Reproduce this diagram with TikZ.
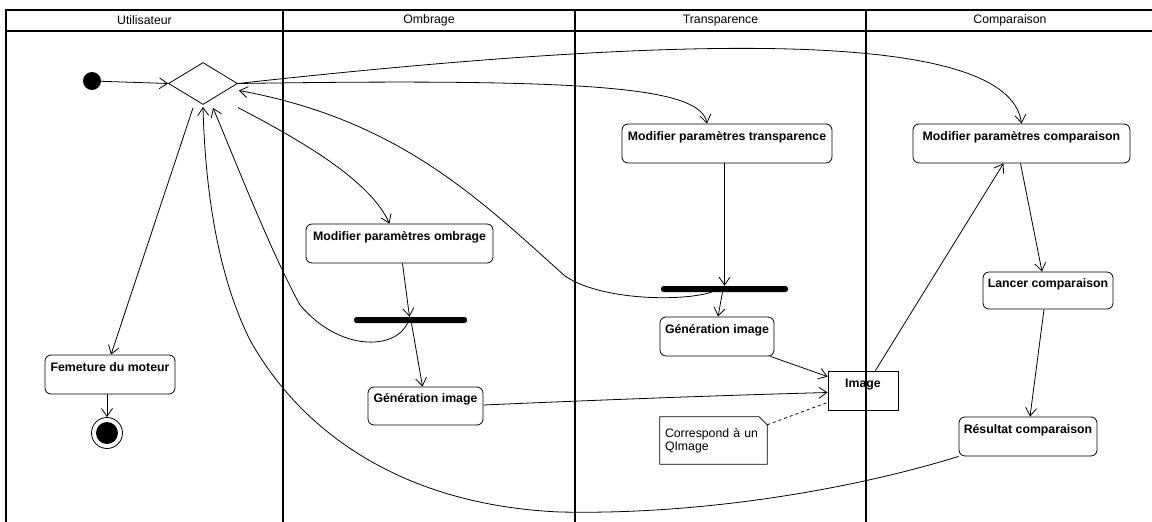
\documentclass[tikz,border=0pt]{standalone}
\usepackage{fontspec}
\setmainfont{Liberation Sans}
\usetikzlibrary{arrows.meta,shapes.geometric,calc}
\begin{document}
\begin{tikzpicture}[x=1pt,y=-1pt,
  font=\fontsize{12.3}{13}\selectfont,
  lane/.style={line width=1.6pt},
  conn/.style={line width=0.8pt,-{Straight Barb[length=8pt,width=11pt]}},
  act/.style={draw,line width=0.8pt,rounded corners=6pt,inner sep=0pt,
    font=\fontsize{12.3}{13}\selectfont\bfseries,text height=9pt,text depth=16pt,minimum height=39pt},
  bar/.style={fill=black,rounded corners=2.5pt,inner sep=0pt,minimum height=6pt},
  ]
\useasboundingbox (0,0) rectangle (1152,522);
\fill[white] (0,0) rectangle (1152,522);
% swimlanes
\draw[lane] (6,522) -- (6,10) -- (1152,10);
\draw[lane] (6,31) -- (1152,31);
\draw[lane] (283,10) -- (283,522);
\draw[lane] (575,10) -- (575,522);
\draw[line width=1.1pt] (866,10) -- (866,522);
\node (hU) at (144.5,20.5) {Utilisateur};
\node (hO) at (429,20.5) {Ombrage};
\node (hT) at (720.5,20.5) {Transparence};
\node (hC) at (1010,20.5) {Comparaison};
% nodes
\node[circle,fill=black,inner sep=0pt,minimum size=18pt] (start) at (92,81) {};
\node[diamond,draw,line width=0.8pt,inner sep=0pt,minimum width=69pt,minimum height=42pt] (dia) at (203,83.5) {};
\node[act,minimum width=130pt] (fer) at (110,374.5) {Femeture du moteur};
\node[circle,draw,line width=0.8pt,inner sep=0pt,minimum size=31pt,
  path picture={\fill[black] (path picture bounding box.center) circle (11pt);}] (end) at (107,433) {};
\node[act,minimum width=187pt] (modO) at (399.5,243.5) {Modifier paramètres ombrage};
\node[bar,minimum width=113pt] (bar1) at (410.5,320) {};
\node[act,minimum width=115pt,minimum height=38pt] (genO) at (425.5,406) {Génération image};
\node[act,minimum width=210pt] (modT) at (727,143.5) {Modifier paramètres transparence};
\node[bar,minimum width=127pt] (bar2) at (724.5,289) {};
\node[act,minimum width=114pt] (genT) at (717,336.5) {Génération image};
\node[act,rounded corners=0pt,minimum width=70pt] (img) at (863,390.5) {Image};
\node[align=left,text width=97pt,inner xsep=5pt,inner ysep=0pt,minimum height=47pt] (note) at (713.5,440.5)
  {Correspond à un\\QImage\vphantom{p}\\[2pt]};
\draw[line width=0.8pt] (note.north west) -- ($(note.north east)+(-8,0)$) -- ($(note.north east)+(0,8)$)
  -- (note.south east) -- (note.south west) -- cycle;
\node[act,minimum width=217pt] (modC) at (1021.5,143.5) {Modifier paramètres comparaison};
\node[act,minimum width=130pt,minimum height=37pt] (lan) at (1048,290.5) {Lancer comparaison};
\node[act,minimum width=138pt] (res) at (1028,436.5) {Résultat comparaison};
% connectors
\draw[conn] (start) -- (dia.west);
\draw[conn] (dia.east) .. controls (450,60) and (650,45) .. (790,49)
  .. controls (930,53) and (1015,75) .. (modC.north);
\draw[conn] (dia.east) .. controls (600,78) and (700,88) .. ($(modT.north)+(-20,0)$);
\draw[conn] ($(dia.east)+(0,24)$) .. controls (300,140) and (370,180) .. ($(modO.north)+(-10,0)$);
\draw[conn] ($(bar2.south)+(-13,0)$) .. controls (680,302) and (600,300) .. (565,276)
  .. controls (480,200) and (400,120) .. ($(dia.east)+(1,7)$);
\draw[conn] ($(bar1.south)+(-3,0)$) .. controls (395,350) and (340,352) .. (300,305)
  .. controls (270,250) and (235,160) .. ($(dia.south)+(10,3)$);
\draw[conn] (res.south west) .. controls (850,490) and (700,515) .. (560,512)
  .. controls (400,505) and (300,430) .. (250,340)
  .. controls (215,270) and (205,180) .. ($(dia.south)+(0,2)$);
\draw[conn] ($(dia.south)+(-10,3)$) -- ($(fer.north)+(1,0)$);
\draw[conn] (fer.south -| end) -- (end.north);
\draw[conn] ($(modO.south)+(3,0)$) -- ($(bar1.north)+(-1,0)$);
\draw[conn] ($(bar1.south)+(1,0)$) -- ($(genO.north)+(-3,0)$);
\draw[conn] ($(genO.east)+(0,-1)$) .. controls (600,400) and (700,396) .. ($(img.west)+(0,2)$);
\draw[conn] (modT.south -| bar2.north) -- (bar2.north);
\draw[conn] ($(bar2.south)+(-2,0)$) -- ($(genT.north)+(1,0)$);
\draw[conn] ($(genT.south east)+(-4,0)$) -- ($(img.north west)+(0,6)$);
\draw[conn] ($(img.north east)+(-23,0)$) -- ($(modC.south)+(-18,0)$);
\draw[conn] ($(modC.south)+(-1,0)$) -- ($(lan.north)+(-6,0)$);
\draw[conn] ($(lan.south)+(-4,0)$) -- ($(res.north)+(2,0)$);
\draw[line width=0.8pt,dashed] ($(note.north east)+(0,8)$) -- ($(img.south west)+(0,-8)$);
\end{tikzpicture}
\end{document}
